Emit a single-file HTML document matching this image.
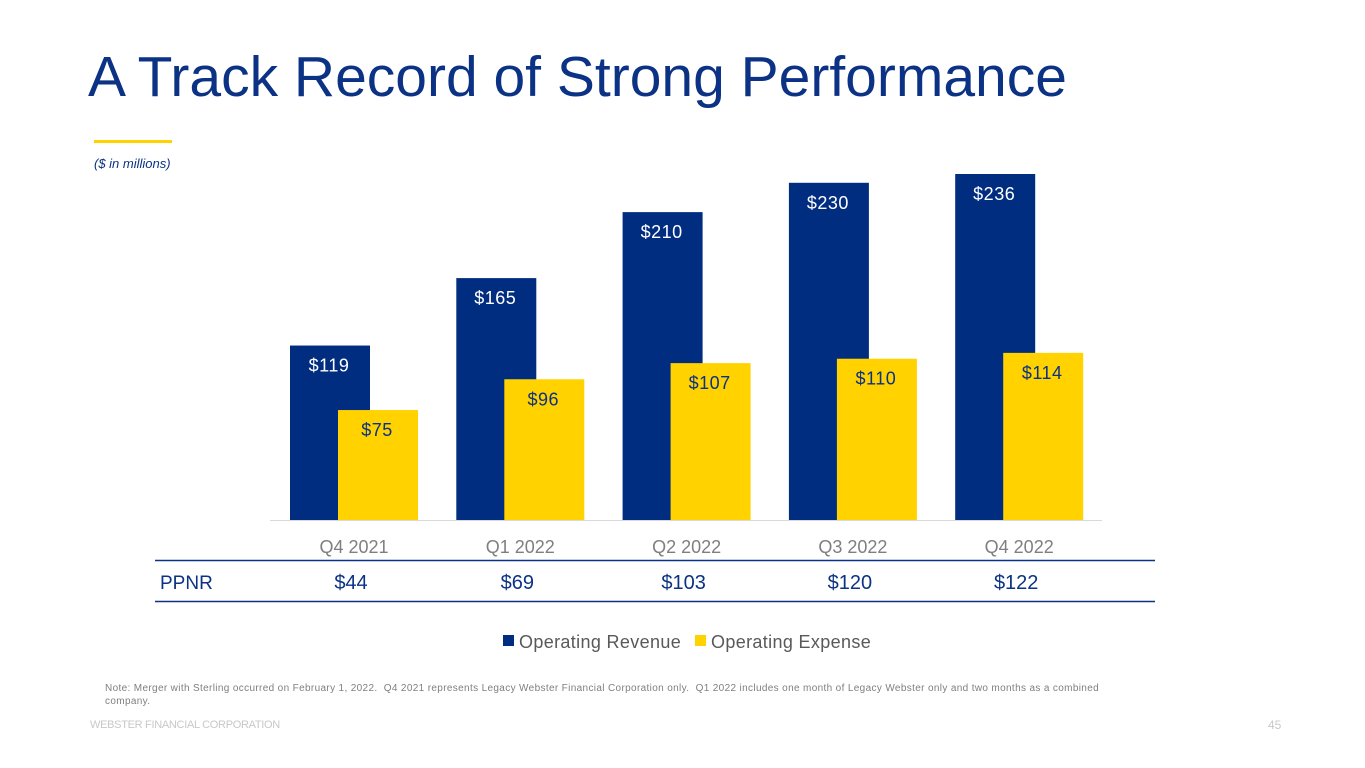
<!DOCTYPE html>
<html><head><meta charset="utf-8"><style>
body{margin:0;width:1365px;height:768px;background:#fff;font-family:"Liberation Sans",sans-serif;position:relative;overflow:hidden}
.a{position:absolute;white-space:nowrap}
</style></head><body>
<div class="a" style="left:88px;top:44px;font-size:57px;color:#0b3284">A Track Record of Strong Performance</div>
<div class="a" style="left:94px;top:140px;width:78px;height:3px;background:#ffd200"></div>
<div class="a" style="left:94px;top:156px;font-size:13px;font-style:italic;color:#0b3284">($ in millions)</div>
<svg class="a" style="left:0;top:0" width="1365" height="768">
<g id="bars"></g>
<line x1="270" y1="520.5" x2="1102" y2="520.5" stroke="#d9d9d9"/>
<line x1="155" y1="560.5" x2="1155" y2="560.5" stroke="#0b3284" stroke-width="1.5"/>
<line x1="155" y1="601.5" x2="1155" y2="601.5" stroke="#0b3284" stroke-width="1.5"/>
<text x="160" y="589" font-size="19" fill="#0b3284">PPNR</text>
<g id="labels"></g>
<rect x="503" y="635" width="11" height="11" fill="#002d80"/>
<text x="519" y="648" font-size="18" fill="#595959" letter-spacing="0.35">Operating Revenue</text>
<rect x="695" y="635" width="11" height="11" fill="#ffd200"/>
<text x="711" y="648" font-size="18" fill="#595959" letter-spacing="0.35">Operating Expense</text>
</svg>
<div class="a" style="left:105px;top:682px;font-size:10px;color:#7f7f7f;line-height:13px;white-space:normal;width:1040px;letter-spacing:0.35px">Note: Merger with Sterling occurred on February 1, 2022.&nbsp; Q4 2021 represents Legacy Webster Financial Corporation only.&nbsp; Q1 2022 includes one month of Legacy Webster only and two months as a combined company.</div>
<div class="a" style="left:90px;top:719px;font-size:11px;color:#c8c8c8;letter-spacing:-0.3px">WEBSTER FINANCIAL CORPORATION</div>
<div class="a" style="left:1268px;top:718px;font-size:12px;color:#c8c8c8">45</div>
<script>
const categories=["Q4 2021","Q1 2022","Q2 2022","Q3 2022","Q4 2022"];
const revenue=[119,165,210,230,236];
const expense=[75,96,107,110,114];
const ppnr=[44,69,103,120,122];
const NS="http://www.w3.org/2000/svg";
const base=520,scale=346/236,x0=290,step=166.3,bw=80,off=48;
const y=v=>base-v*scale;
const bars=document.getElementById('bars'),labels=document.getElementById('labels');
function mk(tag,attrs,parent,txt){const e=document.createElementNS(NS,tag);for(const k in attrs)e.setAttribute(k,attrs[k]);if(txt!==undefined)e.textContent=txt;parent.appendChild(e);return e;}
categories.forEach((c,i)=>{
 const bx=x0+i*step;
 const r1=mk('rect',{x:bx,y:y(revenue[i]),width:bw,height:revenue[i]*scale,fill:'#002d80'},bars);
 
 
 const r2=mk('rect',{x:bx+off,y:y(expense[i]),width:bw,height:expense[i]*scale,fill:'#ffd200'},bars);
 
 
 const t1=mk('text',{x:bx+off/2+15,y:y(revenue[i])+26,'font-size':18,fill:'#fff','text-anchor':'middle','letter-spacing':0.5},bars,'$'+revenue[i]);
 
 
 const t2=mk('text',{x:bx+off+bw/2-1,y:y(expense[i])+26,'font-size':18,fill:'#0b3284','text-anchor':'middle','letter-spacing':0.5},bars,'$'+expense[i]);
 
 
 const cx=bx+(off+bw)/2;
 const t3=mk('text',{x:cx,y:553,'font-size':18,fill:'#7f7f7f','text-anchor':'middle'},labels,c);
 
 
 const t4=mk('text',{x:cx-3,y:589,'font-size':20,fill:'#0b3284','text-anchor':'middle'},labels,'$'+ppnr[i]);
 
 
});
</script>
</body></html>
